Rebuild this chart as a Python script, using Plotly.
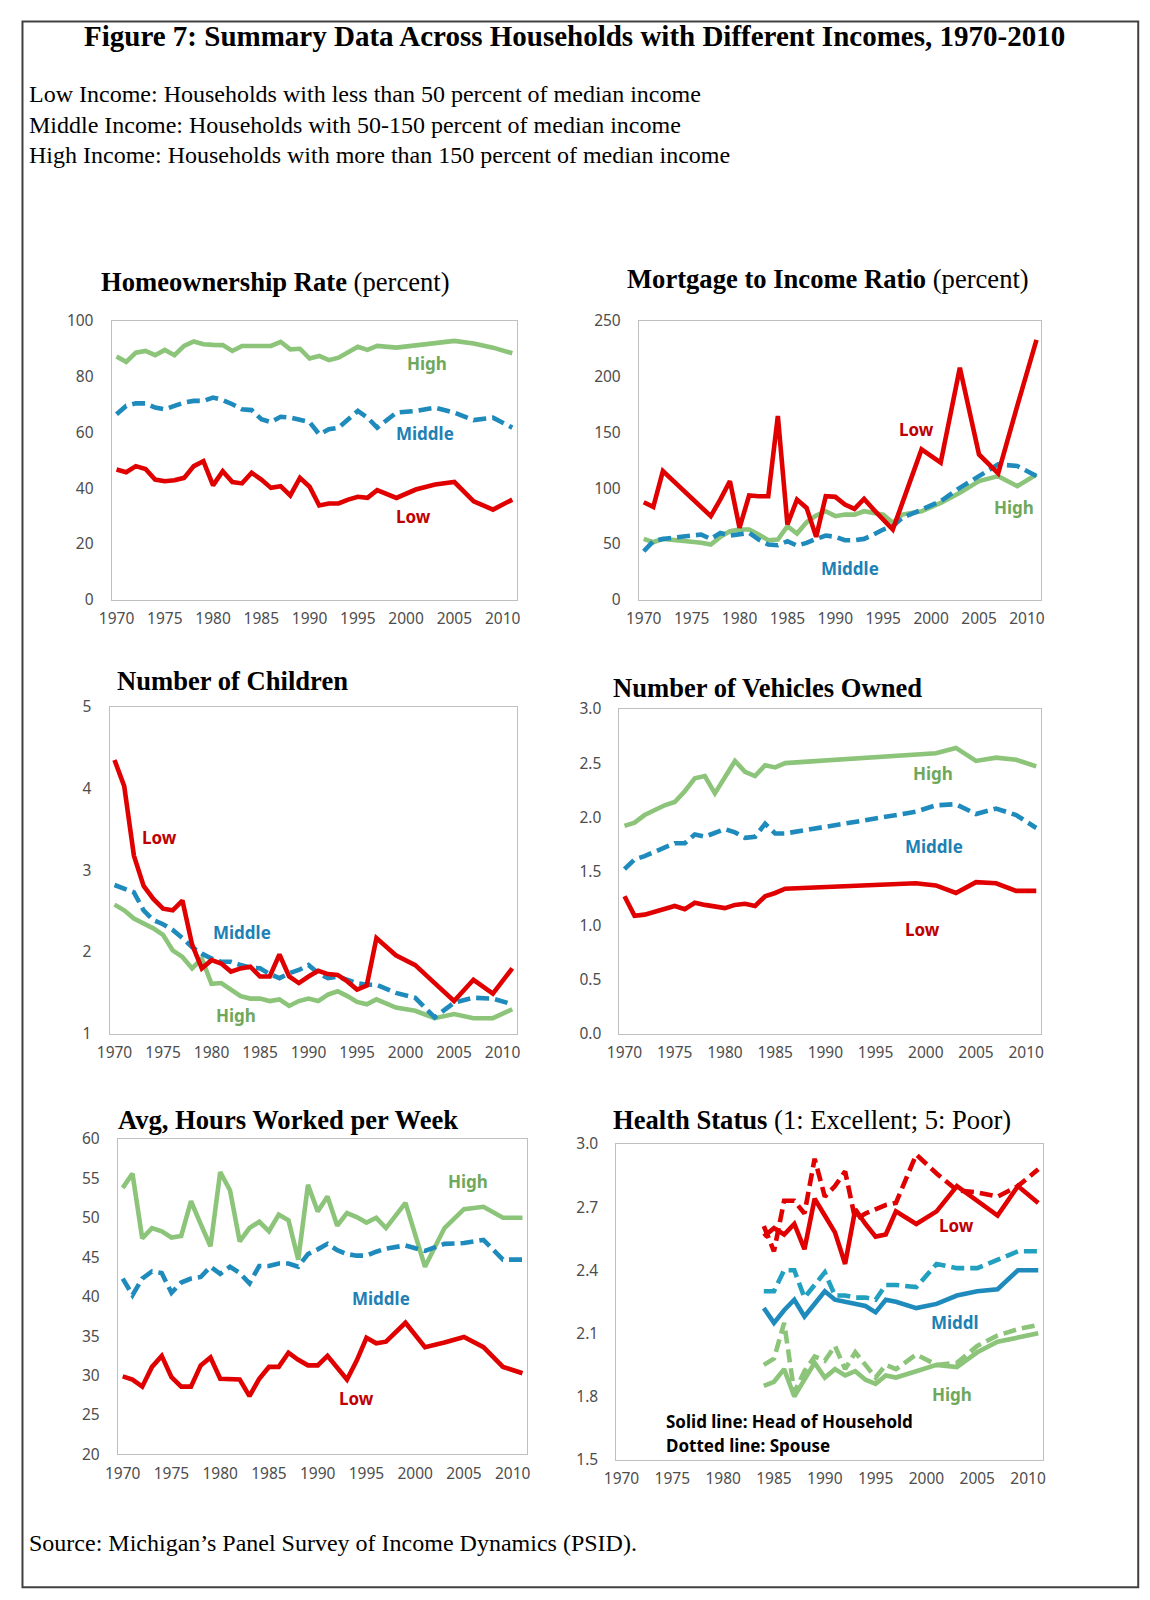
import plotly.graph_objects as go

W, H = 1150, 1600

# ---------------- data ----------------
years = list(range(1970, 1998)) + [1999, 2001, 2003, 2005, 2007, 2009, 2011]
years_veh = list(range(1970, 1987)) + [1999, 2001, 2003, 2005, 2007, 2009, 2011]
years_health = list(range(1984, 1998)) + [1999, 2001, 2003, 2005, 2007, 2009, 2011]
tick_years = [1970, 1975, 1980, 1985, 1990, 1995, 2000, 2005, 2010]
tick_labels = [str(y) for y in tick_years]

home_high = [87.2, 85.3, 88.6, 89.2, 87.7, 89.6, 87.7, 91.0, 92.6, 91.6, 91.4, 91.3, 89.2, 91.0,
             91.0, 91.0, 91.0, 92.5, 89.8, 90.0, 86.5, 87.4, 85.9, 86.8, 88.9, 90.7, 89.6, 91.0,
             90.4, 91.3, 92.2, 92.8, 91.9, 90.4, 88.4]
home_mid = [66.5, 69.5, 70.4, 70.4, 68.9, 68.3, 69.5, 70.7, 71.3, 71.3, 72.5, 71.6, 70.1, 68.3,
            68.0, 64.7, 63.7, 65.6, 65.3, 64.4, 63.7, 59.3, 61.1, 61.7, 64.7, 67.7, 65.3, 61.7,
            67.1, 67.7, 68.9, 67.1, 64.4, 65.3, 61.7]
home_low = [46.7, 45.7, 47.9, 46.9, 43.1, 42.5, 42.8, 43.7, 47.9, 49.7, 41.0, 46.1, 42.2, 41.7,
            45.5, 43.1, 40.1, 40.7, 37.4, 43.7, 40.5, 33.8, 34.5, 34.5, 35.9, 36.9, 36.5, 39.3,
            36.5, 39.5, 41.3, 42.2, 35.3, 32.3, 35.9]

mort_low = [87.4, 83.2, 115.3, 107, 99, 91, 83, 74.9, 90, 106.3, 64.4, 93.4, 92.8, 92.8,
            164.7, 67.4, 89.8, 82.3, 56.3, 92.8, 92.2, 85.3, 81.4, 90.4, 80.8, 71.9, 62.9, 86.8,
            134.7, 122.8, 208, 130.2, 113.2, 174, 233]
mort_mid = [43.4, 52.4, 54.5, 55.4, 56.3, 56.9, 58.4, 54.5, 59.9, 57.5, 58.4, 59.9, 53.9, 49.4,
            48.8, 52.4, 48.5, 50.9, 54.5, 57.5, 56.3, 53.3, 53.3, 54.5, 58.4, 62.9, 65.9, 73.4,
            80.8, 88.3, 100.3, 110.8, 121.3, 119.8, 110.8]
mort_high = [54.5, 51.5, 54.5, 54, 53, 52, 51, 49.4, 56.3, 61.4, 62.9, 62.9, 58.4, 53.3,
             53.9, 65.9, 59.3, 69.5, 75.4, 79.3, 74.9, 76.3, 76.3, 79.3, 77.8, 76.3, 68.9, 76.3,
             79.3, 86.8, 95.8, 106.3, 110.8, 101.8, 112.3]

kids_low = [4.35, 4.03, 3.18, 2.81, 2.65, 2.53, 2.51, 2.63, 2.09, 1.80, 1.90, 1.86, 1.76, 1.80,
            1.82, 1.70, 1.70, 1.97, 1.70, 1.62, 1.70, 1.77, 1.73, 1.72, 1.64, 1.54, 1.59, 2.17,
            1.96, 1.84, 1.62, 1.40, 1.66, 1.49, 1.80]
kids_mid = [2.82, 2.77, 2.73, 2.51, 2.39, 2.34, 2.27, 2.17, 2.06, 1.98, 1.92, 1.88, 1.88, 1.84,
            1.81, 1.80, 1.73, 1.68, 1.74, 1.78, 1.84, 1.74, 1.68, 1.70, 1.66, 1.62, 1.60, 1.60,
            1.50, 1.44, 1.20, 1.38, 1.44, 1.43, 1.36]
kids_high = [2.58, 2.51, 2.41, 2.35, 2.29, 2.21, 2.02, 1.94, 1.80, 1.92, 1.61, 1.62, 1.54, 1.46,
             1.43, 1.43, 1.40, 1.42, 1.34, 1.40, 1.43, 1.40, 1.48, 1.52, 1.46, 1.39, 1.36, 1.42,
             1.32, 1.28, 1.19, 1.24, 1.19, 1.19, 1.30]

veh_high = [1.92, 1.95, 2.02, 2.07, 2.11, 2.14, 2.24, 2.36, 2.38, 2.22, 2.38, 2.52, 2.42, 2.38,
            2.48, 2.46, 2.50, 2.57, 2.59, 2.64, 2.52, 2.55, 2.53, 2.47]
veh_mid = [1.52, 1.61, 1.64, 1.68, 1.72, 1.76, 1.76, 1.84, 1.82, 1.85, 1.89, 1.86, 1.81, 1.82,
           1.94, 1.85, 1.85, 2.05, 2.11, 2.12, 2.03, 2.08, 2.02, 1.90]
veh_low = [1.27, 1.09, 1.10, 1.13, 1.15, 1.18, 1.15, 1.21, 1.19, 1.18, 1.16, 1.19, 1.20, 1.18,
           1.27, 1.30, 1.34, 1.39, 1.37, 1.30, 1.40, 1.39, 1.32, 1.32]

hours_high = [53.8, 55.6, 47.4, 48.7, 48.3, 47.5, 47.7, 52.1, 49.2, 46.4, 55.8, 53.5, 47.0, 48.7,
              49.5, 48.3, 50.4, 49.7, 44.7, 54.2, 50.8, 52.7, 49.0, 50.6, 50.1, 49.4, 50.0, 48.7,
              51.9, 43.8, 48.7, 51.1, 51.4, 50.0, 50.0]
hours_mid = [42.3, 40.2, 42.3, 43.2, 43.0, 40.5, 41.8, 42.3, 42.5, 43.8, 42.9, 43.8, 43.0, 41.7,
             43.9, 43.9, 44.2, 44.2, 43.8, 45.4, 46.0, 46.7, 45.9, 45.4, 45.2, 45.2, 45.7, 46.1,
             46.5, 45.8, 46.7, 46.8, 47.2, 44.7, 44.7]
hours_low = [29.9, 29.5, 28.6, 31.1, 32.5, 29.8, 28.6, 28.6, 31.3, 32.3, 29.6, 29.6, 29.5, 27.4,
             29.6, 31.1, 31.1, 32.9, 32.0, 31.3, 31.3, 32.5, 30.9, 29.5, 31.9, 34.8, 34.1, 34.3,
             36.7, 33.6, 34.2, 34.9, 33.6, 31.1, 30.3]

health_low_head = [2.56, 2.60, 2.57, 2.62, 2.50, 2.74, 2.66, 2.58, 2.43, 2.69, 2.62, 2.56, 2.57, 2.68,
                   2.62, 2.68, 2.80, 2.73, 2.66, 2.80, 2.72]
health_low_spouse = [2.61, 2.49, 2.73, 2.73, 2.67, 2.93, 2.75, 2.80, 2.87, 2.64, 2.67, 2.69, 2.71, 2.72,
                     2.95, 2.86, 2.78, 2.77, 2.75, 2.80, 2.88]
health_mid_head = [2.22, 2.15, 2.21, 2.26, 2.18, 2.24, 2.30, 2.26, 2.25, 2.24, 2.23, 2.20, 2.26, 2.25,
                   2.22, 2.24, 2.28, 2.30, 2.31, 2.40, 2.40]
health_mid_spouse = [2.30, 2.30, 2.40, 2.40, 2.27, 2.33, 2.39, 2.28, 2.28, 2.27, 2.27, 2.26, 2.33, 2.33,
                     2.32, 2.43, 2.41, 2.41, 2.45, 2.49, 2.49]
health_high_head = [1.85, 1.87, 1.93, 1.80, 1.88, 1.96, 1.89, 1.93, 1.90, 1.92, 1.88, 1.86, 1.90, 1.89,
                    1.92, 1.95, 1.94, 2.01, 2.06, 2.08, 2.10]
health_high_spouse = [1.95, 1.98, 2.15, 1.82, 1.92, 1.99, 1.97, 2.04, 1.93, 2.01, 1.95, 1.89, 1.95, 1.93,
                      2.00, 1.95, 1.96, 2.04, 2.09, 2.12, 2.14]

# ---------------- styles ----------------
RED, BLUE, GREEN = "#E00000", "#1F8BBD", "#8CC47A"
BLUE2 = "#22A0BF"
RED_T, BLUE_T, GREEN_T = "#C00000", "#1E80B4", "#6FA85B"
SERIF = "Liberation Serif"
SANS = "Noto Sans"
DASH = "13px,6px"
LW = 4.6


# layout positions are given in reference-picture pixels and mapped to canvas pixels
def cx(r):
    return (r - 23.4) / 0.9632


def cy(r):
    return (r - 20.4) / 0.9657


def px_x(r):
    return min(max(cx(r) / W, 0.0008), 0.9992)


def px_y(r):
    return min(max(1 - cy(r) / H, 0.0008), 0.9992)


fig = go.Figure()

# panel boxes in reference pixels: (left, right, top, bottom, yrange, dtick, fmt)
panels = [
    (112, 508, 315, 588, [0, 100], 20, None),
    (627, 1020, 315, 588, [0, 250], 50, None),
    (110, 508, 693, 1013, [1, 5], 1, None),
    (608, 1020, 695, 1013, [0, 3], 0.5, ".1f"),
    (118, 518, 1116, 1425, [20, 60], 5, None),
    (605, 1022, 1121, 1430, [1.5, 3.0], 0.3, ".1f"),
]

TICKFONT = dict(family=SANS, size=15.5, color="#4D4D4D")
for i, (l, r, t, b, yr, dt, fmt) in enumerate(panels, start=1):
    xa = dict(domain=[px_x(l), px_x(r)], range=[1969.5, 2011.5],
              tickvals=tick_years, ticktext=tick_labels, showgrid=False, zeroline=False,
              showline=True, mirror=True, linecolor="#BFBFBF", linewidth=1.2,
              ticks="", ticklabelstandoff=5, tickfont=TICKFONT, anchor=f"y{i}")
    ya = dict(domain=[px_y(b), px_y(t)], range=yr, dtick=dt, tick0=yr[0], showgrid=False,
              zeroline=False, showline=True, mirror=True, linecolor="#BFBFBF", linewidth=1.2,
              ticks="", ticklabelstandoff=14, tickfont=TICKFONT, anchor=f"x{i}")
    if fmt:
        ya["tickformat"] = fmt
    fig.layout[f"xaxis{i}" if i > 1 else "xaxis"] = xa
    fig.layout[f"yaxis{i}" if i > 1 else "yaxis"] = ya


def add(i, x, y, color, dash=None):
    ax = "" if i == 1 else str(i)
    fig.add_trace(go.Scatter(x=x, y=y, mode="lines", xaxis="x" + ax, yaxis="y" + ax,
                             line=dict(color=color, width=LW, dash=dash), showlegend=False,
                             hoverinfo="skip"))


add(1, years, home_high, GREEN)
add(1, years, home_mid, BLUE, DASH)
add(1, years, home_low, RED)

add(2, years, mort_high, GREEN)
add(2, years, mort_mid, BLUE, DASH)
add(2, years, mort_low, RED)

add(3, years, kids_high, GREEN)
add(3, years, kids_mid, BLUE, DASH)
add(3, years, kids_low, RED)

add(4, years_veh, veh_high, GREEN)
add(4, years_veh, veh_mid, BLUE, DASH)
add(4, years_veh, veh_low, RED)

add(5, years, hours_high, GREEN)
add(5, years, hours_mid, BLUE, DASH)
add(5, years, hours_low, RED)

add(6, years_health, health_high_spouse, GREEN, DASH)
add(6, years_health, health_high_head, GREEN)
add(6, years_health, health_mid_spouse, BLUE2, DASH)
add(6, years_health, health_mid_head, BLUE)
add(6, years_health, health_low_spouse, RED, DASH)
add(6, years_health, health_low_head, RED)

ann = []


def text(x, y, s, size, color="black", family=SERIF, xanchor="center"):
    ann.append(dict(x=px_x(x), y=px_y(y), xref="paper", yref="paper", text=s, showarrow=False,
                    xanchor=xanchor, yanchor="middle", font=dict(family=family, size=size, color=color)))


# header
text(564, 36, "<b>Figure 7: Summary Data Across Households with Different Incomes, 1970-2010</b>", 29)
text(29, 93, "Low Income: Households with less than 50 percent of median income", 24, xanchor="left")
text(29, 123, "Middle Income: Households with 50-150 percent of median income", 24, xanchor="left")
text(29, 153, "High Income: Households with more than 150 percent of median income", 24, xanchor="left")
text(29, 1512, "Source: Michigan’s Panel Survey of Income Dynamics (PSID).", 24, xanchor="left")

# panel titles
TS = 26.6
text(100, 277, "<b>Homeownership Rate</b> (percent)", TS, xanchor="left")
text(613, 274, "<b>Mortgage to Income Ratio</b> (percent)", TS, xanchor="left")
text(115, 668, "<b>Number of Children</b>", TS, xanchor="left")
text(600, 674, "<b>Number of Vehicles Owned</b>", TS, xanchor="left")
text(116, 1097, "<b>Avg, Hours Worked per Week</b>", TS, xanchor="left")
text(600, 1097, "<b>Health Status</b> (1: Excellent; 5: Poor)", TS, xanchor="left")


# series labels
def lab(x, y, s, color):
    text(x, y, f"<b>{s}</b>", 17, color=color, family=SANS)


lab(420, 357, "High", GREEN_T); lab(418, 425, "Middle", BLUE_T); lab(407, 507, "Low", RED_T)
lab(898, 421, "Low", RED_T); lab(993, 498, "High", GREEN_T); lab(833, 557, "Middle", BLUE_T)
lab(159, 821, "Low", RED_T); lab(239, 914, "Middle", BLUE_T); lab(233, 995, "High", GREEN_T)
lab(914, 758, "High", GREEN_T); lab(915, 830, "Middle", BLUE_T); lab(904, 911, "Low", RED_T)
lab(460, 1158, "High", GREEN_T); lab(375, 1272, "Middle", BLUE_T); lab(351, 1370, "Low", RED_T)
lab(937, 1201, "Low", RED_T); lab(936, 1296, "Middl", BLUE_T); lab(933, 1366, "High", GREEN_T)
text(651, 1393, "<b>Solid line: Head of Household</b>", 17, family=SANS, xanchor="left")
text(651, 1416, "<b>Dotted line: Spouse</b>", 17, family=SANS, xanchor="left")

# outer frame (canvas pixels so that all four sides stay inside the visible page)
frame = dict(type="rect", xref="paper", yref="paper",
             x0=1.5 / W, x1=1133 / W, y0=px_y(1555), y1=1 - 1.5 / H,
             line=dict(color="#404040", width=2))

fig.update_layout(
    width=W, height=H, margin=dict(l=0, r=0, t=0, b=0),
    paper_bgcolor="white", plot_bgcolor="white", annotations=ann, shapes=[frame],
)

fig.write_html("out.html")
